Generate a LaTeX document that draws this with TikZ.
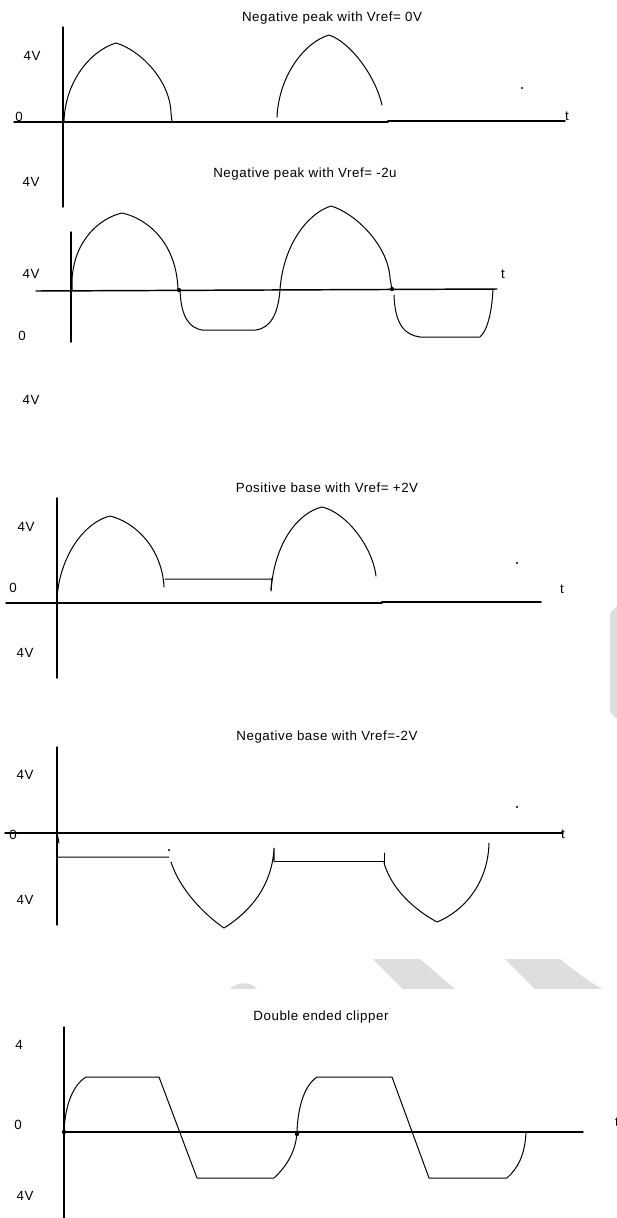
\documentclass[tikz,border=0pt]{standalone}
\usepackage{fontspec}
\setmainfont[LetterSpace=4]{Liberation Sans}
\begin{document}
\begin{tikzpicture}[x=0.75pt,y=-0.75pt,line join=round,line cap=round,font=\fontsize{10}{12}\selectfont,
	axline/.style={line width=1.1pt},wave/.style={line width=0.75pt},wm/.style={fill=black!13}]
	\useasboundingbox (0,0) rectangle (617,1218);
	% watermark pieces
	\fill[wm] (617,606) -- (610,613) -- (610,712) -- (617,719) -- cycle;
	\fill[wm] (373,959) -- (420,959) -- (455,989) -- (403,989) -- cycle;
	\fill[wm] (505,959) -- (560,959) .. controls (580,975) and (592,984) .. (603,989) -- (535,989) -- cycle;
	\fill[wm] (230,989) .. controls (234,983) and (250,980) .. (257,989) -- cycle;
	% negative peak, Vref = 0V
	\node (ttl1) at (332,18) {Negative peak with Vref= 0V};
	\node (v1a) at (32,56) {4V};
	\node (z1) at (19,117) {0};
	\node (v1b) at (31,182) {4V};
	\node (t1) at (567,116) {t};
	\draw[axline] (63,27) -- (63,207);
	\draw[axline] (14,122) -- (388,122) -- (388,121) -- (565,121);
	\draw[wave] (64,122) .. controls (65,80) and (92,50) .. (116,43) .. controls (140,50) and (170,80) .. (171,113) -- (172,122);
	\draw[line width=2pt] (173,122) -- (277,122);
	\draw[wave] (277,117) .. controls (279,75) and (305,42) .. (329,35) .. controls (350,42) and (375,75) .. (382,105);
	\fill (522,88) circle (0.9pt);
	% negative peak, Vref = -2V
	\node (ttl2) at (305,174) {Negative peak with Vref= -2u};
	\node (v2a) at (31,274) {4V};
	\node (z2) at (22,336) {0};
	\node (v2b) at (31,400) {4V};
	\node (t2) at (503,274) {t};
	\draw[axline] (71,232) -- (71,342);
	\draw[axline] (36,291) -- (497,289);
	\draw[wave] (72,290) -- (72,280) .. controls (74,240) and (100,218) .. (122,213) .. controls (145,218) and (176,240) .. (178,289);
	\draw[wave] (180,290) .. controls (181,318) and (190,328) .. (202,330) -- (256,330) .. controls (270,328) and (278,315) .. (280,290)
		.. controls (283,245) and (308,213) .. (331,206) .. controls (355,213) and (388,245) .. (390,278) -- (392,289);
	\draw[wave] (394,295) .. controls (395,325) and (405,335) .. (420,337) -- (480,337) .. controls (488,330) and (492,310) .. (493,289);
	\fill (179,290) circle (1.6pt) (392,289) circle (1.6pt);
	% positive base, Vref = +2V
	\node (ttl3) at (327,488) {Positive base with Vref= +2V};
	\node (v3a) at (26,527) {4V};
	\node (z3) at (13,588) {0};
	\node (v3b) at (25,653) {4V};
	\node (t3) at (562,589) {t};
	\draw[axline] (57,498) -- (57,678);
	\draw[axline] (6,603) -- (382,603) -- (382,602) -- (541,602);
	\draw[wave] (57,598) .. controls (60,555) and (85,522) .. (110,516) .. controls (135,522) and (162,548) .. (164,587);
	\draw[wave] (165,579) -- (272,579) (272,578) -- (271,591);
	\draw[wave] (271,590) .. controls (275,540) and (300,512) .. (322,507) .. controls (345,512) and (372,545) .. (376,576);
	\fill (517,563) circle (0.9pt);
	% negative base, Vref = -2V
	\node (ttl4) at (327,737) {Negative base with Vref=-2V};
	\node (v4a) at (25,775) {4V};
	\node (z4) at (13,835) {0};
	\node (v4b) at (25,900) {4V};
	\node (t4) at (563,834) {t};
	\draw[axline] (57,747) -- (57,925);
	\draw[axline] (5,833) -- (563,833);
	\draw[wave] (57,833) -- (59,843) (58,857) -- (169,857);
	\fill (169,850) circle (0.8pt);
	\draw[wave] (171,862) .. controls (180,890) and (205,915) .. (224,928) .. controls (245,915) and (272,890) .. (274,848) -- (274,862);
	\draw[wave] (275,861) -- (384,861) (384,853) -- (384,863);
	\draw[wave] (384,863) .. controls (392,890) and (415,910) .. (437,922) .. controls (462,912) and (488,885) .. (489,843);
	\fill (517,807) circle (0.9pt);
	% double ended clipper
	\node (ttl5) at (321,1017) {Double ended clipper};
	\node (v5a) at (19,1045) {4};
	\node (z5) at (18,1125) {0};
	\node (v5b) at (25,1196) {4V};
	\node (t5) at (617,1122) {t};
	\draw[axline] (64,1027) -- (64,1218);
	\draw[axline] (64,1132) -- (583,1132);
	\draw[wave] (64,1132) .. controls (65,1105) and (73,1085) .. (86,1077) -- (159,1077) -- (197,1178) -- (274,1178)
		.. controls (288,1165) and (296,1150) .. (297,1132) .. controls (298,1105) and (305,1085) .. (317,1077)
		-- (392,1077) -- (429,1178) -- (507,1178) .. controls (518,1168) and (525,1155) .. (526,1132);
	\fill (64,1132) circle (1.6pt) (297,1134) circle (1.6pt);
\end{tikzpicture}
\end{document}
